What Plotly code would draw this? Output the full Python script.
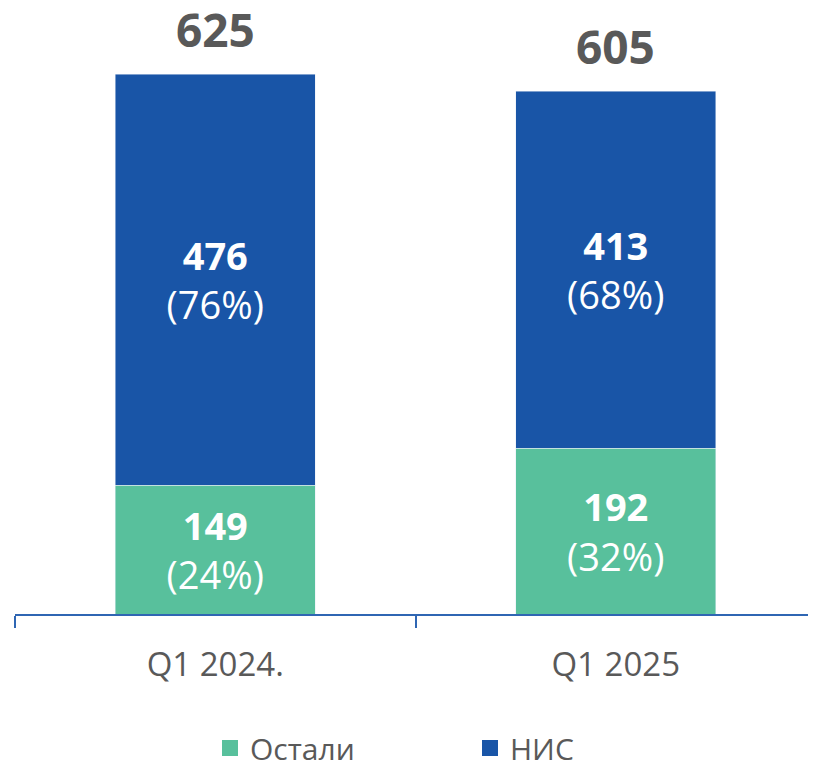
import plotly.graph_objects as go

categories = ["Q1 2024.", "Q1 2025"]
ostali = [149, 192]
nis = [476, 413]
ostali_pct = ["24%", "32%"]
nis_pct = ["76%", "68%"]
totals = [a + b for a, b in zip(ostali, nis)]

green = "#58C09C"
blue = "#1955A7"
gray = "#595959"
font_family = "Open Sans"

fig = go.Figure()
fig.add_trace(go.Bar(
    x=categories, y=ostali, name="Остали", marker_color=green, width=0.5,
    text=[f"<b>{v}</b><br>({p})" for v, p in zip(ostali, ostali_pct)],
    textposition="inside", insidetextanchor="middle",
    textfont=dict(color="white", size=38, family=font_family),
    showlegend=False, hoverinfo="skip",
))
fig.add_trace(go.Bar(
    x=categories, y=nis, name="НИС", marker_color=blue, width=0.5,
    text=[f"<b>{v}</b><br>({p})" for v, p in zip(nis, nis_pct)],
    textposition="inside", insidetextanchor="middle",
    textfont=dict(color="white", size=38, family=font_family),
    showlegend=False, hoverinfo="skip",
))
# legend entries
for name, col in [("Остали", green), ("НИС", blue)]:
    fig.add_trace(go.Scatter(
        x=[None], y=[None], mode="markers", name=name,
        marker=dict(symbol="square", size=20, color=col),
    ))

for c, t in zip(categories, totals):
    fig.add_annotation(x=c, y=t, text=f"<b>{t}</b>", showarrow=False,
                       yanchor="bottom", yshift=12,
                       font=dict(size=46, color=gray, family=font_family))

fig.update_layout(
    width=808, height=766,
    margin=dict(l=7, r=0, t=0, b=160),
    barmode="stack",
    plot_bgcolor="white", paper_bgcolor="white",
    font=dict(family=font_family, color=gray),
    legend=dict(orientation="h", xref="container", yref="container",
                x=0.25, xanchor="left", y=0.0, yanchor="bottom",
                traceorder="normal",
                font=dict(size=30, color=gray), entrywidth=215, entrywidthmode="pixels",
                itemclick=False),
    xaxis=dict(range=[-0.5, 1.5], showline=True, linecolor="#2F66B3", linewidth=2,
               ticks="outside", tickson="boundaries", ticklen=12, tickcolor="#2F66B3",
               tickwidth=2, tickfont=dict(size=33, color=gray), showgrid=False,
               ticklabelstandoff=20, automargin=False),
    yaxis=dict(range=[0, 701.4], visible=False, showgrid=False, automargin=False),
)
fig.write_html("out.html")
